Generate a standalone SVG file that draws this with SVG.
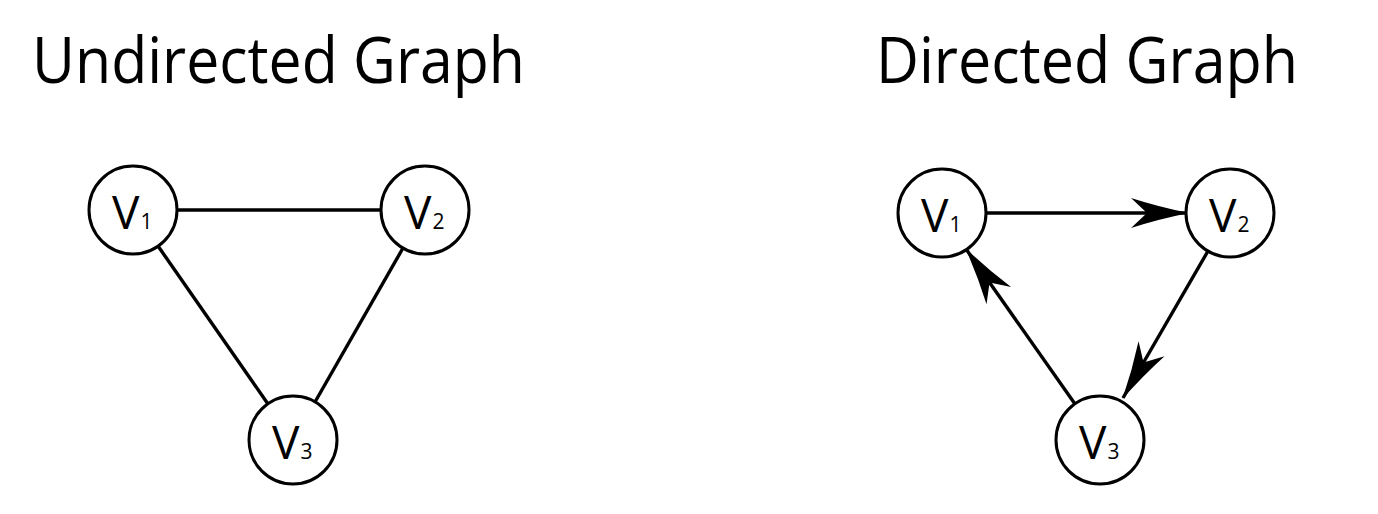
<svg xmlns="http://www.w3.org/2000/svg" width="1378" height="514" viewBox="0 0 1378 514">
<style>
.title{font-family:"Open Sans","Noto Sans","Liberation Sans",sans-serif;font-size:64px;fill:#000;}
.node circle{fill:#fff;stroke:#000;stroke-width:3;}
.lbl{font-family:"Open Sans","Noto Sans","Liberation Sans",sans-serif;font-size:46px;fill:#000;}
.sub{font-size:21px;}
.edge{stroke:#000;stroke-width:3.4;fill:none;}
</style>
<defs>
<marker id="arr" markerUnits="userSpaceOnUse" markerWidth="62" markerHeight="34" viewBox="0 0 62 34" refX="59" refY="17" orient="auto">
<path d="M2,2 Q30,11 60,17 Q30,23 2,32 L18,17 z" fill="#000"/>
</marker>
</defs>
<rect width="1378" height="514" fill="#fff"/>
<text class="title" x="32" y="83" textLength="493" lengthAdjust="spacingAndGlyphs">Undirected Graph</text>
<text class="title" x="876" y="83" textLength="422" lengthAdjust="spacingAndGlyphs">Directed Graph</text>
<g id="connectors">
<line class="edge" x1="177" y1="210" x2="381" y2="210"/>
<line class="edge" x1="158" y1="246" x2="268" y2="404"/>
<line class="edge" x1="403" y1="248" x2="315" y2="402"/>
<line class="edge" x1="986" y1="213" x2="1188" y2="213" marker-end="url(#arr)"/>
<line class="edge" x1="1208" y1="251" x2="1123" y2="398" marker-end="url(#arr)"/>
<line class="edge" x1="1075" y1="404" x2="966" y2="249" marker-end="url(#arr)"/>
</g>
<g id="u-v1" class="node"><circle cx="133" cy="210" r="44"/><text class="lbl" x="112" y="229">V<tspan class="sub" dx="1">1</tspan></text></g>
<g id="u-v2" class="node"><circle cx="425" cy="210" r="44"/><text class="lbl" x="404" y="229">V<tspan class="sub" dx="1">2</tspan></text></g>
<g id="u-v3" class="node"><circle cx="293" cy="440" r="44"/><text class="lbl" x="272" y="459">V<tspan class="sub" dx="1">3</tspan></text></g>
<g id="d-v1" class="node"><circle cx="942" cy="213" r="44"/><text class="lbl" x="921" y="232">V<tspan class="sub" dx="1">1</tspan></text></g>
<g id="d-v2" class="node"><circle cx="1230" cy="213" r="44"/><text class="lbl" x="1209" y="232">V<tspan class="sub" dx="1">2</tspan></text></g>
<g id="d-v3" class="node"><circle cx="1100" cy="440" r="44"/><text class="lbl" x="1079" y="459">V<tspan class="sub" dx="1">3</tspan></text></g>
</svg>
